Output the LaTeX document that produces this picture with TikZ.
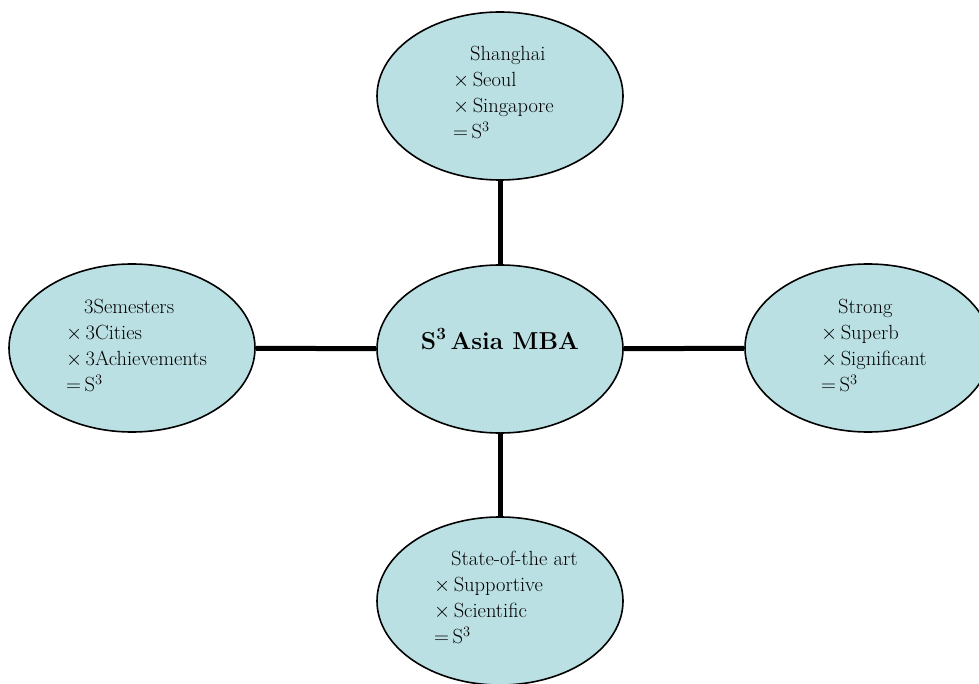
\documentclass[tikz,border=0pt]{standalone}
\usetikzlibrary{shapes.geometric}
\definecolor{bubble}{HTML}{BBE0E3}
\newcommand{\firstln}{\rule{0pt}{16pt}}
\tikzset{
  bub/.style={ellipse, draw=black, line width=1.6pt, fill=bubble, minimum width=246pt, minimum height=168pt, inner sep=0pt},
  link/.style={line width=5pt, black},
  txt/.style={anchor=north west, inner sep=0pt, align=left, font=\fontsize{20.5}{26.2}\selectfont},
}
\begin{document}
\begin{tikzpicture}[x=1pt,y=-1pt]
\useasboundingbox (0,0) rectangle (979,684);
\clip (0,0) rectangle (979,684);
\node[bub] (c) at (500,349) {};
\node[bub] (t) at (500,96) {};
\node[bub] (l) at (132,348) {};
\node[bub] (r) at (868,348) {};
\node[bub] (b) at (500,601) {};
\draw[link] (t) -- (c);
\draw[link] (c) -- (b);
\draw[link] (l) -- (c);
\draw[link] (c) -- (r);
\node[anchor=base, inner sep=0pt, font=\fontsize{24.5}{28}\selectfont\bfseries] (ct) at (500,349) {S\textsuperscript{3}\,Asia MBA};
\node[txt] (tt) at (453,44) {\firstln\hspace*{17pt}Shanghai\\$\times$\,Seoul\\$\times$\,Singapore\\$=$\,S$^3$};
\node[txt] (lt) at (66,297) {\firstln\hspace*{18pt}3Semesters\\$\times$\,3Cities\\$\times$\,3Achievements\\$=$\,S$^3$};
\node[txt] (rt) at (821,297) {\firstln\hspace*{17pt}Strong\\$\times$\,Superb\\$\times$\,Significant\\$=$\,S$^3$};
\node[txt] (bt) at (434,549) {\firstln\hspace*{17pt}State-of-the art\\$\times$\,Supportive\\$\times$\,Scientific\\$=$\,S$^3$};
\end{tikzpicture}
\end{document}
